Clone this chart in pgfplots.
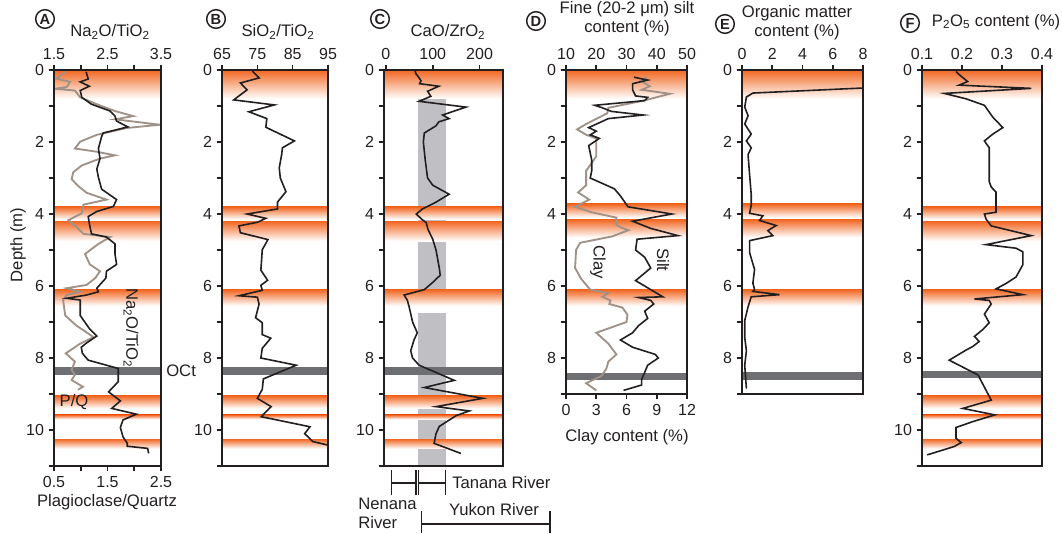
\documentclass[border=0pt]{standalone}
\usepackage{pgfplots}
\pgfplotsset{compat=1.18}
\usepackage{fontspec}
\setmainfont{Liberation Sans}

\definecolor{ink}{RGB}{35,31,32}
\definecolor{bandorange}{RGB}{242,103,34}
\definecolor{octgray}{RGB}{110,111,114}
\definecolor{colgray}{RGB}{192,192,196}
\definecolor{pqgray}{RGB}{160,146,136}

% one orange soil band: x range, top depth, bottom depth
\newcommand{\oband}[4]{\fill[top color=bandorange, middle color=bandorange!60!white, bottom color=white, draw=none] (axis cs:#1,#3) rectangle (axis cs:#2,#4);}
\newcommand{\longbands}[2]{%
  \oband{#1}{#2}{0}{0.8}\oband{#1}{#2}{3.8}{4.15}\oband{#1}{#2}{4.2}{4.75}%
  \oband{#1}{#2}{6.1}{6.55}\oband{#1}{#2}{9.05}{9.4}\oband{#1}{#2}{9.58}{9.7}%
  \oband{#1}{#2}{10.25}{10.52}}
\newcommand{\shortbands}[2]{%
  \oband{#1}{#2}{0}{0.8}\oband{#1}{#2}{3.72}{4.1}\oband{#1}{#2}{4.15}{4.65}%
  \oband{#1}{#2}{6.1}{6.55}}
\newcommand{\octband}[4]{\fill[octgray] (axis cs:#1,#3) rectangle (axis cs:#2,#4);}

\pgfplotsset{
  core/.style={
    scale only axis, anchor=north west,
    y dir=reverse, ymin=0,
    axis line style={ink, line width=1.7pt},
    every tick/.style={ink, line width=1.2pt},
    tick align=outside, major tick length=4pt, minor tick length=4pt,
    ytick={0,2,4,6,8,10}, minor ytick={1,3,5,7,9,11},
    ytick pos=left, xtick pos=right, xticklabel pos=right,
    tick label style={font=\fontsize{12}{14}\selectfont, text=ink},
    /pgf/number format/assume math mode=true,
    axis on top,
  },
  dataline/.style={ink, line width=1.2pt, no markers},
  greyline/.style={pqgray, line width=1.4pt, no markers},
}

\begin{document}
\begin{tikzpicture}[x=0.75pt,y=-0.75pt]
\useasboundingbox (0,0) rectangle (1062,533);

% ---------------- A: Plagioclase/Quartz (bottom scale)
\begin{axis}[core, at={(40.5pt,-52.5pt)}, width=80.25pt, height=297pt,
  ymax=11, xmin=0.5, xmax=2.5, xtick={0.5,1.5,2.5}, minor xtick={1,2},
  xtick pos=left, xticklabel pos=left, ytick=\empty, minor ytick=\empty]
\longbands{0.5}{2.5}
\octband{0.5}{2.5}{8.25}{8.47}
\addplot[greyline] coordinates {
(0.71,0.05) (0.55,0.24) (0.80,0.33) (0.74,0.47) (0.52,0.52) (0.89,0.57) (0.99,0.76)
(1.30,0.95) (1.64,1.14) (1.98,1.28) (1.64,1.37) (2.48,1.52) (1.86,1.61) (1.30,1.80)
(0.99,1.99) (0.89,2.18) (1.30,2.27) (1.64,2.37) (1.36,2.46) (1.02,2.65) (0.86,2.84)
(0.83,3.03) (0.95,3.22) (1.11,3.41) (1.48,3.60) (1.05,3.74) (1.02,3.98) (0.77,4.17)
(0.92,4.36) (1.05,4.55) (1.55,4.64) (1.33,4.83) (1.08,5.11) (1.17,5.40) (1.36,5.59)
(1.27,5.78) (1.11,5.97) (0.74,6.06) (0.99,6.16) (0.74,6.25) (0.67,6.39) (0.71,6.82)
(0.92,7.10) (1.24,7.42) (0.99,7.60) (0.72,7.87) (0.89,8.10) (0.83,8.33) (0.89,8.47)
(0.83,8.61) (1.04,8.80) (0.95,8.88)};
\end{axis}
% ---------------- A: Na2O/TiO2 (top scale)
\begin{axis}[core, at={(40.5pt,-52.5pt)}, width=80.25pt, height=297pt,
  ymax=11, xmin=1.5, xmax=3.5, xtick={1.5,2.5,3.5}, minor xtick={2,3}]
\addplot[dataline] coordinates {
(2.10,0.05) (2.14,0.25) (1.99,0.33) (2.16,0.45) (1.99,0.57) (2.02,0.76) (2.20,0.95)
(2.55,1.14) (2.64,1.28) (2.67,1.42) (2.88,1.58) (2.42,1.75) (2.39,1.85) (2.33,2.18)
(2.36,2.46) (2.30,2.75) (2.33,2.98) (2.39,3.31) (2.67,3.60) (2.61,3.79) (2.30,3.93)
(2.14,4.07) (2.16,4.26) (2.20,4.55) (2.48,4.64) (2.64,4.83) (2.64,5.11) (2.67,5.40)
(2.48,5.59) (2.47,5.78) (2.30,6.06) (2.33,6.16) (2.11,6.25) (1.74,6.34) (1.99,6.39)
(1.99,6.82) (2.17,7.20) (2.30,7.39) (2.11,7.58) (2.01,7.70) (2.03,7.87) (2.14,8.06)
(2.70,8.29) (2.70,8.66) (2.52,8.94) (2.74,9.19) (2.58,9.40) (3.04,9.56) (2.79,9.72)
(2.74,9.93) (2.79,10.19) (2.87,10.37) (2.87,10.45) (3.25,10.51) (3.27,10.65)};
\end{axis}

% ---------------- B: SiO2/TiO2
\begin{axis}[core, at={(166.5pt,-52.5pt)}, width=79.5pt, height=297pt,
  ymax=11, xmin=65, xmax=95, xtick={65,75,85,95}]
\longbands{65}{95}
\octband{65}{95}{8.25}{8.47}
\addplot[dataline] coordinates {
(73.6,0.03) (75.5,0.22) (70.2,0.36) (72.1,0.55) (68.3,0.83) (79.8,0.97) (72.6,1.16)
(77.7,1.35) (77.4,1.59) (85.5,1.97) (82.1,2.16) (81.9,2.34) (81.2,2.72) (81.5,3.00)
(83.1,3.38) (80.7,3.67) (80.7,3.86) (72.1,4.00) (77.4,4.12) (75.0,4.23) (69.8,4.33)
(70.2,4.52) (78.0,4.71) (76.4,4.99) (76.0,5.56) (77.9,5.84) (76.0,5.98) (76.4,6.12)
(69.8,6.27) (75.0,6.31) (75.5,6.50) (74.5,6.88) (76.4,7.02) (76.4,7.35) (78.8,7.45)
(76.4,7.73) (76.0,8.00) (86.0,8.20) (76.7,8.58) (76.4,8.87) (75.0,9.12) (78.9,9.35)
(76.1,9.63) (89.9,9.91) (88.4,10.10) (90.7,10.32) (95.0,10.42)};
\end{axis}

% ---------------- C: CaO/ZrO2 with provenance ranges
\begin{axis}[core, at={(288pt,-52.5pt)}, width=89.25pt, height=297pt,
  ymax=11, xmin=-4, xmax=250, xtick={0,100,200}, clip=false]
\fill[colgray] (axis cs:68,0.78) rectangle (axis cs:128,6.3);
\fill[colgray] (axis cs:68,6.75) rectangle (axis cs:128,11);
\longbands{-4}{250}
\octband{-4}{250}{8.25}{8.47}
\addplot[dataline] coordinates {
(62,0) (64,0.1) (70,0.2) (75,0.3) (72,0.38) (113,0.45) (89,0.59) (96,0.73) (71,0.87)
(171,1.03) (121,1.25) (135,1.35) (113,1.44) (107,1.55) (82,1.75) (80,2.0) (84,2.5)
(89,3.0) (100,3.2) (135,3.45) (107,3.67) (78,3.86) (65,4.0) (76,4.14) (86,4.24)
(90,4.43) (100,4.7) (107,5.0) (114,5.5) (116,5.7) (100,5.9) (82,6.1) (39,6.25)
(46,6.4) (50,6.6) (57,7.0) (67,7.3) (60,7.5) (53,7.8) (57,8.0) (71,8.2) (146,8.62)
(82,8.82) (207,9.12) (107,9.35) (178,9.47) (150,9.6) (114,9.9) (107,10.1) (103,10.37)
(160,10.65)};
% Nenana and Tanana river ranges
\draw[ink, line width=1pt] (axis cs:12,11.47) -- (axis cs:64,11.47);
\draw[ink, line width=1pt] (axis cs:12,11.1) -- (axis cs:12,11.8);
\draw[ink, line width=1pt] (axis cs:64,11.1) -- (axis cs:64,11.8);
\draw[ink, line width=1pt] (axis cs:69,11.1) -- (axis cs:69,11.8);
\draw[ink, line width=1pt] (axis cs:69,11.47) -- (axis cs:127,11.47);
\draw[ink, line width=1pt] (axis cs:127,11.1) -- (axis cs:127,11.8);
% Yukon river range
\draw[ink, line width=1pt] (axis cs:76,12.61) -- (axis cs:350,12.61);
\draw[ink, line width=1pt] (axis cs:76,12.25) -- (axis cs:76,12.85);
\draw[ink, line width=1pt] (axis cs:350,12.25) -- (axis cs:350,12.85);
\end{axis}

% ---------------- D: clay (bottom scale)
\begin{axis}[core, at={(424.5pt,-52.5pt)}, width=90.75pt, height=243pt,
  ymax=9, xmin=0, xmax=12, xtick={0,3,6,9,12},
  xtick pos=left, xticklabel pos=left, ytick=\empty, minor ytick=\empty]
\shortbands{0}{12}
\octband{0}{12}{8.42}{8.62}
\addplot[greyline] coordinates {
(8.0,0.2) (7.4,0.3) (8.3,0.45) (7.5,0.55) (10.3,0.66) (7.7,0.85) (4.2,1.05) (4.1,1.2)
(2.0,1.5) (1.1,1.65) (2.0,1.8) (3.0,1.9) (3.0,2.4) (2.0,2.8) (2.0,3.2) (1.2,3.4)
(2.3,3.6) (0.9,3.8) (2.5,3.95) (5.0,4.1) (5.0,4.3) (5.5,4.38) (6.2,4.45) (4.6,4.62)
(1.4,4.8) (1.0,5.0) (0.9,5.5) (1.5,5.8) (2.4,6.1) (4.2,6.2) (3.6,6.3) (4.4,6.4)
(4.3,6.5) (5.6,6.6) (6.1,6.8) (6.0,7.0) (3.0,7.3) (4.2,7.6) (5.0,7.9) (4.2,8.1)
(4.0,8.3) (3.5,8.5) (2.0,8.7) (3.0,8.9)};
\end{axis}
% ---------------- D: fine silt (top scale)
\begin{axis}[core, at={(424.5pt,-52.5pt)}, width=90.75pt, height=243pt,
  ymax=9, xmin=10, xmax=50, xtick={10,20,30,40,50}, ytick={0,2,4,6,8}, minor ytick={1,3,5,7,9}]
\addplot[dataline] coordinates {
(32.5,0.2) (37,0.28) (32,0.38) (32,0.55) (33,0.72) (37,0.76) (36,0.85) (19.5,0.98)
(22,1.05) (25,1.15) (35.5,1.25) (24,1.35) (17.5,1.6) (20,1.7) (18,1.8) (21,1.9)
(17.5,2.1) (18,2.3) (18.5,2.5) (18.5,2.8) (18,3.0) (26,3.3) (28,3.5) (30.5,3.8)
(45,4.0) (32,4.2) (38,4.4) (47,4.6) (33.5,4.7) (33,5.0) (36,5.2) (38,5.5) (33,5.85)
(36,6.0) (42,6.3) (34,6.32) (38,6.4) (39,6.5) (36,6.7) (37,6.9) (34,7.1) (32,7.3)
(28,7.5) (32,7.7) (39.5,7.9) (40.5,8.0) (37,8.2) (35,8.6) (35,8.75) (29,8.9)};
\end{axis}

% ---------------- E: organic matter
\begin{axis}[core, at={(556.5pt,-52.5pt)}, width=90.75pt, height=243pt,
  ymax=9, xmin=0, xmax=8, xtick={0,2,4,6,8}, ytick={0,2,4,6,8}, minor ytick={1,3,5,7,9}]
\shortbands{0}{8}
\octband{0}{8}{8.4}{8.6}
\addplot[dataline] coordinates {
(8.0,0.5) (0.72,0.64) (0.29,0.75) (0.18,1.03) (0.4,1.27) (0.18,1.5) (0.61,1.78)
(0.29,1.97) (0.61,2.16) (0.4,2.35) (0.5,2.9) (0.61,3.46) (0.61,3.75) (0.5,3.98)
(1.38,4.05) (1.16,4.18) (2.26,4.32) (1.71,4.46) (2.04,4.6) (0.5,4.74) (0.5,5.07)
(0.83,5.54) (0.72,5.92) (0.83,6.1) (0.72,6.15) (2.48,6.24) (0.61,6.3) (0.4,6.58)
(0.18,6.96) (0.18,7.43) (0.29,7.8) (0.18,8.2) (0.29,8.85)};
\end{axis}

% ---------------- F: P2O5
\begin{axis}[core, at={(691.5pt,-52.5pt)}, width=90pt, height=297pt,
  ymax=11, xmin=0.1, xmax=0.4, xtick={0.1,0.2,0.3,0.4}]
\longbands{0.1}{0.4}
\octband{0.1}{0.4}{8.35}{8.55}
\addplot[dataline] coordinates {
(0.185,0.04) (0.193,0.13) (0.214,0.32) (0.193,0.42) (0.373,0.51) (0.156,0.65)
(0.21,0.8) (0.256,0.98) (0.277,1.31) (0.302,1.6) (0.277,1.78) (0.256,1.97)
(0.268,2.16) (0.268,3.1) (0.273,3.25) (0.285,3.39) (0.285,3.95) (0.256,4.0)
(0.26,4.14) (0.273,4.33) (0.373,4.6) (0.26,4.85) (0.335,4.95) (0.352,5.05)
(0.352,5.41) (0.335,5.75) (0.31,5.93) (0.285,6.08) (0.352,6.24) (0.231,6.36)
(0.268,6.4) (0.273,6.5) (0.256,6.78) (0.268,7.02) (0.252,7.21) (0.231,7.4)
(0.243,7.54) (0.227,7.68) (0.21,7.78) (0.168,8.06) (0.24,8.47) (0.273,9.17)
(0.202,9.40) (0.282,9.58) (0.226,9.77) (0.185,9.93) (0.185,10.23) (0.198,10.35)
(0.18,10.46) (0.113,10.69)};
\end{axis}

% ---------------- panel letters and headings
\tikzset{lett/.style={draw=ink, circle, line width=1.1pt, inner sep=0pt, minimum size=14pt,
  text=ink, font=\bfseries\fontsize{11}{11}\selectfont},
  lab/.style={text=ink, font=\fontsize{12.5}{14.5}\selectfont, inner sep=0pt}}
\node[lett] at (45,19) {A};
\node[lett] at (216,19) {B};
\node[lett] at (380,19) {C};
\node[lett] at (536,21) {D};
\node[lett] at (725,24) {E};
\node[lett] at (910,23) {F};

\node[lab] at (110,32) {Na\textsubscript{2}O/TiO\textsubscript{2}};
\node[lab] at (278,32) {SiO\textsubscript{2}/TiO\textsubscript{2}};
\node[lab] at (448,32) {CaO/ZrO\textsubscript{2}};
\node[lab, align=center] at (627,19) {Fine (20-2 μm) silt\\content (\%)};
\node[lab, align=center] at (797,23) {Organic matter\\content (\%)};
\node[lab] at (996,22) {P\textsubscript{2}O\textsubscript{5} content (\%)};

\node[lab, rotate=90] at (18,245) {Depth (m)};
\node[lab] at (107,502) {Plagioclase/Quartz};
\node[lab] at (627,437) {Clay content (\%)};
\node[lab, anchor=west] at (166,371) {OCt};
\node[lab, rotate=-90] at (131,328) {Na\textsubscript{2}O/TiO\textsubscript{2}};
\node[lab] at (74,402) {P/Q};
\node[lab, rotate=-90] at (598,262) {Clay};
\node[lab, rotate=-90] at (663,260) {Silt};

\node[lab, anchor=west] at (452,483) {Tanana River};
\node[lab, anchor=west] at (358,504) {Nenana};
\node[lab, anchor=west] at (358,523) {River};
\node[lab] at (494,510) {Yukon River};
\end{tikzpicture}
\end{document}
